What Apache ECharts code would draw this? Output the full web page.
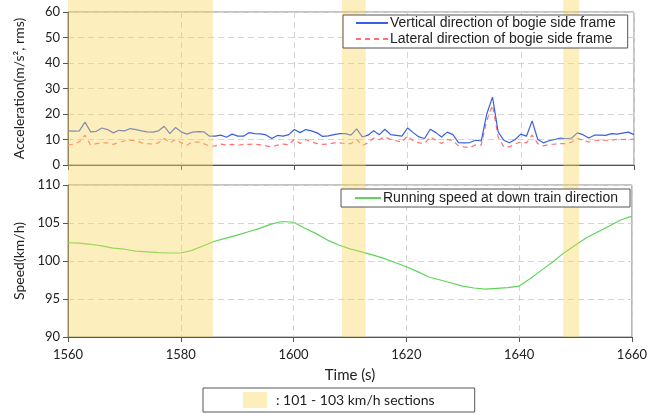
<!DOCTYPE html>
<html><head><meta charset="utf-8">
<script src="https://cdn.jsdelivr.net/npm/echarts@6/dist/echarts.min.js"></script>
<style>html,body{margin:0;padding:0;background:#fff}#c{width:650px;height:414px}</style>
</head><body><div id="c"></div>
<script>
// ---- data ----
const accStart = 1560; // seconds, 1 s step
const verticalAcc = [13.4,13.3,13.4,16.8,13.0,13.2,14.5,13.9,12.6,13.6,13.4,14.3,13.9,13.4,13.0,12.9,13.4,15.2,12.3,14.7,
13.0,12.1,12.9,13.1,13.0,11.3,11.3,11.7,10.9,12.1,11.3,11.3,12.7,12.3,12.2,11.8,10.4,11.6,11.3,11.9,
13.9,12.7,13.9,13.4,12.6,11.2,11.4,11.9,12.3,12.3,11.7,14.2,11.0,11.7,13.4,11.9,14.0,11.9,11.6,11.3,
14.5,12.7,11.0,10.4,14.0,12.7,11.0,12.9,11.9,8.8,8.7,8.8,9.7,9.4,20.1,26.6,13.0,9.7,8.7,10.0,
12.1,11.3,17.3,10.0,8.7,9.5,10.0,10.6,10.3,10.6,12.6,11.9,10.6,11.7,11.7,11.6,12.3,12.1,12.5,12.9,11.9];
const lateralAcc = [7.8,8.2,9.1,11.7,7.8,8.4,8.7,8.7,8.1,8.8,9.5,9.7,9.5,8.7,8.4,8.2,8.7,10.4,8.7,10.0,
8.7,7.7,9.1,9.0,8.4,7.4,7.5,8.2,7.8,8.1,7.7,8.1,8.1,8.2,7.9,7.5,7.1,7.8,8.2,7.9,
10.1,8.4,10.0,9.1,8.4,8.1,8.2,8.7,8.7,8.4,8.4,10.0,7.7,8.7,10.6,10.0,11.0,10.0,9.5,9.0,
11.4,9.5,8.7,8.4,11.0,9.7,8.4,10.0,9.5,7.5,7.1,6.8,7.9,7.8,17.5,23.4,11.0,7.1,7.1,8.2,
9.1,8.7,11.7,8.4,7.5,8.1,8.2,8.4,8.4,9.0,10.4,9.7,9.0,9.7,9.6,9.7,9.7,10.1,10.0,10.1,10.1];
const speedStart = 1560; // seconds, 2 s step
const speedKmh = [102.4,102.35,102.2,102.0,101.7,101.55,101.3,101.2,101.1,101.05,
101.05,101.4,102.0,102.6,103.0,103.4,103.85,104.3,104.85,105.2,
105.1,104.3,103.6,102.75,102.1,101.6,101.2,100.8,100.35,99.8,
99.25,98.6,97.9,97.5,97.1,96.7,96.45,96.3,96.4,96.5,
96.7,97.7,98.8,99.9,101.1,102.1,103.1,103.85,104.6,105.4,105.9];
const bandSections = [[1560,1585.6],[1608.4,1612.6],[1647.5,1650.3]];
const xTicks = {min:1560, max:1660, interval:20};
const accTicks = {min:0, max:60, interval:10};
const speedTicks = {min:90, max:110, interval:5};
const names = {
  vert:'Vertical direction of bogie side frame',
  lat:'Lateral direction of bogie side frame',
  speed:'Running speed at down train direction',
  band:': 101 - 103 km/h sections'
};

// ---- chart ----
const pairs = (start, step, arr) => arr.map((v,i)=>[start+i*step, v]);
const F = 'Lato, "Open Sans", sans-serif';
const gridLine = {show:true, lineStyle:{color:'#d4d4d4', type:[6,4], width:1}};
const axisCol = '#555';
function xAxis(gi, showLabel){
  return {type:'value', gridIndex:gi, min:xTicks.min, max:xTicks.max, interval:xTicks.interval,
    axisLine:{show:true, onZero:false, lineStyle:{color:axisCol}},
    axisTick:{show:true, length:5, lineStyle:{color:axisCol}},
    axisLabel:{show:showLabel, color:'#222', fontFamily:F, fontSize:13, margin:11, formatter:v=>String(v)},
    splitLine:gridLine,
    name: showLabel ? 'Time (s)' : '', nameLocation:'middle', nameGap:31,
    nameTextStyle:{color:'#222', fontFamily:F, fontSize:15}};
}
function yAxis(gi, t, name){
  return {type:'value', gridIndex:gi, min:t.min, max:t.max, interval:t.interval,
    axisLine:{show:true, lineStyle:{color:axisCol}},
    axisTick:{show:true, length:5, lineStyle:{color:axisCol}},
    axisLabel:{color:'#222', fontFamily:F, fontSize:13, margin:8},
    splitLine:gridLine,
    name:name, nameLocation:'middle', nameGap:42, nameRotate:90,
    nameTextStyle:{color:'#222', fontFamily:F, fontSize:14}};
}
const LF = '"Liberation Sans", Arial, sans-serif';
const chart = echarts.init(document.getElementById('c'), null, {renderer:'canvas'});
chart.setOption({
  animation:false,
  backgroundColor:'#fff',
  grid:[
    {left:68, width:566, top:12, height:153, show:true, borderColor:'#888', borderWidth:1, backgroundColor:'transparent'},
    {left:68, width:566, top:185, height:152, show:true, borderColor:'#888', borderWidth:1, backgroundColor:'transparent'},
    {left:68, width:566, top:0, height:337, show:false}
  ],
  xAxis:[xAxis(0,false), xAxis(1,true),
    {type:'value', gridIndex:2, min:xTicks.min, max:xTicks.max, show:false}],
  yAxis:[yAxis(0, accTicks, 'Acceleration(m/s², rms)'), yAxis(1, speedTicks, 'Speed(km/h)'),
    {type:'value', gridIndex:2, min:0, max:1, show:false}],
  legend:[
    {data:[names.vert, names.lat], orient:'vertical', left:343, top:15, width:287,
     padding:[1,12,2,12], itemGap:2, itemWidth:32, itemHeight:14, borderColor:'#555', borderWidth:1,
     backgroundColor:'#fff', z:20, itemStyle:{opacity:0},
     textStyle:{fontFamily:LF, fontSize:14, color:'#222', padding:[0,0,0,-3]}},
    {data:[names.speed], left:341, top:189, padding:[2,12,2,13], itemWidth:26, itemHeight:14,
     borderColor:'#555', borderWidth:1, backgroundColor:'#fff', z:20, itemStyle:{opacity:0},
     textStyle:{fontFamily:LF, fontSize:14, color:'#222', padding:[0,0,0,-3]}},
    {data:[{name:names.band, icon:'rect'}], left:203, top:388, padding:[4,40,4,40], itemWidth:24, itemHeight:16,
     borderColor:'#555', borderWidth:1, backgroundColor:'#fff', z:20,
     textStyle:{fontFamily:F, fontSize:14, color:'#222', padding:[0,0,0,4]}}
  ],
  series:[
    {name:names.vert, type:'line', xAxisIndex:0, yAxisIndex:0, data:pairs(accStart,1,verticalAcc),
     symbol:'none', z:3, lineStyle:{color:'#3a5fe0', width:1.2}, itemStyle:{color:'#3a5fe0'}},
    {name:names.lat, type:'line', xAxisIndex:0, yAxisIndex:0, data:pairs(accStart,1,lateralAcc),
     symbol:'none', z:2, lineStyle:{color:'#ff7070', width:1.2, type:[5,4]}, itemStyle:{color:'#ff7070'}},
    {name:names.speed, type:'line', xAxisIndex:1, yAxisIndex:1, data:pairs(speedStart,2,speedKmh),
     symbol:'none', z:3, lineStyle:{color:'#5fd45a', width:1.2}, itemStyle:{color:'#5fd45a'}},
    {name:names.band, type:'line', xAxisIndex:2, yAxisIndex:2, data:[], z:10,
     itemStyle:{color:'#fdeebc'},
     markArea:{silent:true, z:10,
       itemStyle:{color:'rgba(250,212,90,0.4)'},
       data:bandSections.map(b=>[{xAxis:b[0]},{xAxis:b[1]}])}}
  ]
});
</script></body></html>
